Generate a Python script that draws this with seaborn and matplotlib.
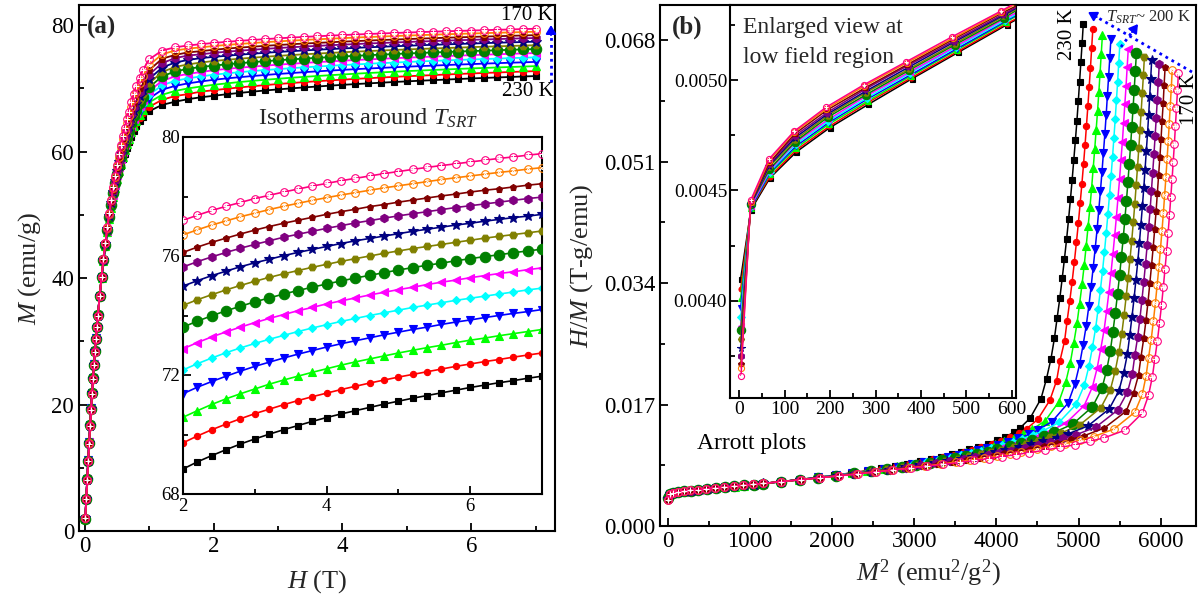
import numpy as np
import matplotlib
matplotlib.use("Agg")
import matplotlib.pyplot as plt
import seaborn as sns
from matplotlib.lines import Line2D
from matplotlib.patches import FancyArrowPatch
from matplotlib.ticker import MultipleLocator, FormatStrFormatter

# ---------------- data ----------------
temperatures_K = [230, 225, 220, 215, 210, 205, 200, 195, 190, 185, 180, 175, 170]

field_T = [0.0075, 0.0225, 0.0375, 0.0525, 0.0675, 0.0825, 0.0975, 0.1125, 0.1275, 0.1425, 0.1575,
           0.1725, 0.1875, 0.2025, 0.23, 0.26, 0.29, 0.32, 0.35, 0.38, 0.41, 0.44, 0.47, 0.50, 0.53,
           0.56, 0.59, 0.62, 0.65, 0.68, 0.72, 0.76, 0.80, 0.85, 0.90, 1.0, 1.2, 1.4, 1.6, 1.8,
           2.0, 2.2, 2.4, 2.6, 2.8, 3.0, 3.2, 3.4, 3.6, 3.8, 4.0, 4.2, 4.4, 4.6, 4.8, 5.0, 5.2, 5.4,
           5.6, 5.8, 6.0, 6.2, 6.4, 6.6, 6.8, 7.0]

m230 = [1.83, 5.10, 8.23, 11.23, 14.11, 16.87, 19.48, 21.95, 24.28, 26.5, 28.5, 30.5, 32.3, 34.1, 37.1, 40.0,
        42.7, 45.0, 47.2, 49.2, 50.9, 52.6, 54.0, 55.4, 56.6, 57.7, 58.8, 59.7, 60.6, 61.5, 62.4, 63.3, 64.1,
        64.9, 65.5, 66.4, 67.4, 67.9, 68.3, 68.6, 68.84, 69.08, 69.29, 69.49, 69.68, 69.85, 70.01, 70.16,
        70.30, 70.44, 70.57, 70.69, 70.80, 70.91, 71.02, 71.12, 71.22, 71.31, 71.40, 71.49, 71.58, 71.66,
        71.74, 71.81, 71.89, 71.96]
m225 = [1.85, 5.09, 8.22, 11.21, 14.09, 16.84, 19.46, 21.93, 24.26, 26.5, 28.5, 30.5, 32.3, 34.1, 37.1, 40.0,
        42.7, 45.1, 47.3, 49.2, 51.0, 52.7, 54.2, 55.5, 56.8, 57.9, 59.0, 60.0, 60.9, 61.7, 62.8, 63.7, 64.5,
        65.4, 66.1, 67.1, 68.2, 68.8, 69.1, 69.5, 69.72, 69.95, 70.16, 70.35, 70.53, 70.70, 70.85, 71.00,
        71.14, 71.27, 71.39, 71.51, 71.62, 71.73, 71.83, 71.93, 72.02, 72.11, 72.20, 72.29, 72.37, 72.45,
        72.52, 72.60, 72.67, 72.74]
m220 = [1.87, 5.09, 8.20, 11.19, 14.06, 16.82, 19.43, 21.90, 24.23, 26.4, 28.5, 30.5, 32.3, 34.1, 37.1, 40.0,
        42.7, 45.1, 47.3, 49.3, 51.1, 52.8, 54.3, 55.7, 57.0, 58.1, 59.2, 60.2, 61.2, 62.0, 63.1, 64.0, 64.9,
        65.8, 66.6, 67.8, 69.0, 69.6, 70.0, 70.3, 70.58, 70.80, 71.01, 71.20, 71.37, 71.53, 71.69, 71.83,
        71.96, 72.09, 72.21, 72.33, 72.44, 72.54, 72.64, 72.74, 72.83, 72.92, 73.00, 73.09, 73.17, 73.24,
        73.32, 73.39, 73.46, 73.53]
m215 = [1.89, 5.09, 8.19, 11.17, 14.04, 16.79, 19.41, 21.88, 24.21, 26.4, 28.5, 30.5, 32.3, 34.1, 37.1, 40.1,
        42.7, 45.2, 47.4, 49.4, 51.3, 52.9, 54.5, 55.9, 57.2, 58.4, 59.5, 60.5, 61.5, 62.3, 63.4, 64.4, 65.3,
        66.3, 67.1, 68.4, 69.8, 70.4, 70.8, 71.1, 71.37, 71.59, 71.78, 71.96, 72.13, 72.29, 72.43, 72.57,
        72.70, 72.82, 72.94, 73.05, 73.15, 73.25, 73.35, 73.44, 73.53, 73.61, 73.70, 73.78, 73.85, 73.93,
        74.00, 74.07, 74.13, 74.20]
m210 = [1.91, 5.08, 8.18, 11.15, 14.02, 16.77, 19.38, 21.85, 24.19, 26.4, 28.5, 30.4, 32.3, 34.1, 37.1, 40.1,
        42.8, 45.2, 47.5, 49.5, 51.4, 53.1, 54.6, 56.1, 57.4, 58.6, 59.7, 60.8, 61.7, 62.7, 63.8, 64.8, 65.7,
        66.7, 67.6, 69.0, 70.5, 71.2, 71.6, 71.9, 72.17, 72.38, 72.57, 72.75, 72.91, 73.06, 73.20, 73.33,
        73.46, 73.58, 73.69, 73.80, 73.90, 74.00, 74.09, 74.18, 74.27, 74.35, 74.43, 74.51, 74.58, 74.65,
        74.72, 74.79, 74.86, 74.92]
m205 = [1.93, 5.08, 8.17, 11.13, 14.00, 16.74, 19.36, 21.83, 24.16, 26.4, 28.4, 30.4, 32.3, 34.1, 37.1, 40.1,
        42.8, 45.3, 47.5, 49.6, 51.5, 53.2, 54.8, 56.3, 57.6, 58.8, 60.0, 61.1, 62.1, 63.0, 64.1, 65.2, 66.1,
        67.2, 68.1, 69.6, 71.2, 71.9, 72.3, 72.6, 72.88, 73.09, 73.28, 73.45, 73.61, 73.76, 73.90, 74.03,
        74.16, 74.27, 74.39, 74.49, 74.59, 74.69, 74.78, 74.87, 74.95, 75.04, 75.12, 75.19, 75.27, 75.34,
        75.41, 75.47, 75.54, 75.60]
m200 = [1.94, 5.07, 8.16, 11.12, 13.97, 16.72, 19.33, 21.80, 24.14, 26.3, 28.4, 30.4, 32.3, 34.1, 37.1, 40.1,
        42.8, 45.3, 47.6, 49.7, 51.6, 53.4, 55.0, 56.5, 57.8, 59.1, 60.3, 61.4, 62.4, 63.3, 64.5, 65.6, 66.6,
        67.7, 68.6, 70.2, 71.9, 72.7, 73.1, 73.4, 73.61, 73.81, 73.99, 74.16, 74.31, 74.46, 74.59, 74.72,
        74.84, 74.95, 75.06, 75.16, 75.26, 75.35, 75.44, 75.53, 75.61, 75.69, 75.76, 75.84, 75.91, 75.98,
        76.04, 76.11, 76.17, 76.23]
m195 = [1.96, 5.07, 8.14, 11.10, 13.95, 16.69, 19.31, 21.78, 24.11, 26.3, 28.4, 30.4, 32.3, 34.0, 37.1, 40.1,
        42.9, 45.4, 47.7, 49.8, 51.7, 53.5, 55.2, 56.7, 58.1, 59.4, 60.6, 61.7, 62.7, 63.7, 64.9, 66.0, 67.1,
        68.2, 69.2, 70.8, 72.6, 73.4, 73.8, 74.1, 74.34, 74.53, 74.70, 74.86, 75.01, 75.15, 75.28, 75.40,
        75.51, 75.62, 75.72, 75.82, 75.91, 76.00, 76.09, 76.17, 76.25, 76.32, 76.39, 76.46, 76.53, 76.60,
        76.66, 76.72, 76.78, 76.84]
m190 = [1.98, 5.07, 8.13, 11.08, 13.93, 16.67, 19.28, 21.75, 24.09, 26.3, 28.4, 30.4, 32.3, 34.0, 37.1, 40.1,
        42.9, 45.4, 47.8, 49.9, 51.9, 53.7, 55.3, 56.9, 58.3, 59.7, 60.9, 62.1, 63.1, 64.1, 65.4, 66.5, 67.6,
        68.8, 69.8, 71.5, 73.3, 74.1, 74.5, 74.8, 74.99, 75.17, 75.34, 75.49, 75.64, 75.77, 75.89, 76.01,
        76.12, 76.22, 76.32, 76.42, 76.51, 76.59, 76.67, 76.75, 76.83, 76.90, 76.97, 77.04, 77.10, 77.17,
        77.23, 77.29, 77.34, 77.40]
m185 = [2.00, 5.06, 8.12, 11.06, 13.91, 16.64, 19.25, 21.73, 24.07, 26.3, 28.4, 30.4, 32.2, 34.0, 37.1, 40.1,
        42.9, 45.5, 47.8, 50.0, 52.0, 53.8, 55.5, 57.1, 58.6, 60.0, 61.2, 62.4, 63.5, 64.6, 65.9, 67.1, 68.2,
        69.4, 70.5, 72.2, 74.0, 74.8, 75.2, 75.4, 75.63, 75.81, 75.97, 76.12, 76.26, 76.39, 76.51, 76.63,
        76.73, 76.83, 76.93, 77.02, 77.11, 77.19, 77.27, 77.35, 77.42, 77.49, 77.56, 77.63, 77.69, 77.75,
        77.81, 77.87, 77.93, 77.98]
m180 = [2.02, 5.06, 8.11, 11.04, 13.88, 16.62, 19.23, 21.70, 24.04, 26.3, 28.4, 30.3, 32.2, 34.0, 37.1, 40.2,
        43.0, 45.5, 47.9, 50.1, 52.1, 54.0, 55.8, 57.4, 58.9, 60.3, 61.6, 62.9, 64.0, 65.1, 66.4, 67.7, 68.8,
        70.1, 71.2, 72.9, 74.7, 75.3, 75.7, 75.9, 76.12, 76.30, 76.46, 76.60, 76.74, 76.87, 76.99, 77.10,
        77.20, 77.30, 77.40, 77.49, 77.57, 77.66, 77.73, 77.81, 77.88, 77.95, 78.02, 78.08, 78.15, 78.21,
        78.26, 78.32, 78.38, 78.43]
m175 = [2.03, 5.06, 8.09, 11.02, 13.86, 16.59, 19.20, 21.68, 24.02, 26.2, 28.3, 30.3, 32.2, 34.0, 37.1, 40.2,
        43.0, 45.6, 48.0, 50.2, 52.3, 54.2, 56.0, 57.7, 59.2, 60.7, 62.0, 63.3, 64.5, 65.6, 67.0, 68.3, 69.5,
        70.8, 72.0, 73.7, 75.4, 76.0, 76.3, 76.5, 76.71, 76.88, 77.04, 77.18, 77.32, 77.44, 77.56, 77.67,
        77.77, 77.87, 77.96, 78.05, 78.13, 78.21, 78.29, 78.36, 78.43, 78.50, 78.57, 78.63, 78.69, 78.75,
        78.81, 78.86, 78.92, 78.97]
m170 = [2.05, 5.05, 8.08, 11.01, 13.84, 16.57, 19.18, 21.65, 24.00, 26.2, 28.3, 30.3, 32.2, 34.0, 37.1, 40.2,
        43.0, 45.6, 48.1, 50.3, 52.4, 54.4, 56.2, 57.9, 59.6, 61.1, 62.5, 63.8, 65.1, 66.3, 67.8, 69.1, 70.4,
        71.7, 72.9, 74.6, 76.0, 76.5, 76.8, 77.0, 77.20, 77.37, 77.53, 77.67, 77.80, 77.93, 78.04, 78.15,
        78.25, 78.35, 78.44, 78.53, 78.61, 78.69, 78.77, 78.84, 78.91, 78.98, 79.04, 79.10, 79.16, 79.22,
        79.28, 79.33, 79.39, 79.44]

magnetization = [m230, m225, m220, m215, m210, m205, m200, m195, m190, m185, m180, m175, m170]
for arr in magnetization:
    assert len(arr) == len(field_T)

# ---------------- styling ----------------
colors = ['#000000', '#ff0000', '#00ff00', '#0000ff', '#00ffff', '#ff00ff', '#008000',
          '#808000', '#000080', '#800080', '#800000', '#ff8000', '#ff0080']
markers = ['s', 'o', '^', 'v', 'D', '<', 'o', 'H', '*', 'h', 'p', 'o', 'o']
msize = [4.5, 4.5, 5.5, 5.5, 4.5, 5.5, 7.5, 5.5, 7, 6, 5, 5.5, 5.5]

sns.set_theme(style="ticks")
plt.rcParams['font.family'] = ['Liberation Serif', 'DejaVu Serif']
plt.rcParams['mathtext.fontset'] = 'custom'
plt.rcParams['mathtext.rm'] = 'Liberation Serif'
plt.rcParams['mathtext.it'] = 'Liberation Serif:italic'
plt.rcParams['mathtext.bf'] = 'Liberation Serif:bold'
plt.rcParams['axes.linewidth'] = 1.5

W, Hpx = 1199, 601
fig = plt.figure(figsize=(W / 100, Hpx / 100), dpi=100)


def rect(l, r, t, b):
    return [l / W, 1 - b / Hpx, (r - l) / W, (b - t) / Hpx]


def fxy(x, y):
    return (x / W, 1 - y / Hpx)


axA = fig.add_axes(rect(79, 555, 5, 531))
axAi = fig.add_axes(rect(183, 542, 137, 494))
axB = fig.add_axes(rect(660, 1196, 5, 526))
axBi = fig.add_axes(rect(730, 1016, 5, 398))


def draw(ax, x, y, i, ms_scale=1.0, lw=1.2):
    c = colors[i]
    hollow = i >= 11
    sns.lineplot(x=x, y=y, ax=ax, color=c, marker=markers[i], markersize=msize[i] * ms_scale,
                 markerfacecolor='none' if hollow else c, markeredgecolor=c,
                 markeredgewidth=0.8, linewidth=lw, estimator=None, sort=False,
                 legend=False, zorder=2 + i * 0.1)
    if hollow:
        sns.lineplot(x=x, y=y, ax=ax, color=c, marker='+' if i == 12 else '.',
                     markersize=msize[i] * ms_scale * (0.8 if i == 12 else 0.5),
                     markeredgewidth=0.7, linestyle='none', estimator=None, sort=False,
                     legend=False, zorder=2 + i * 0.1)


H = np.array(field_T)
for i in range(len(temperatures_K)):
    M = np.array(magnetization[i])
    draw(axA, H, M, i, 1.0, 1.3)
    sel = H >= 2.0
    draw(axAi, H[sel], M[sel], i, 1.0, 1.2)
    selb = H <= 5.0001
    x2 = M[selb] ** 2
    y2 = H[selb] / M[selb]
    draw(axB, x2, y2, i, 1.0, 1.1)
    kk = x2 < 800
    draw(axBi, x2[kk], y2[kk], i, 0.8, 1.1)


def style(ax, size):
    ax.tick_params(direction='in', which='both', top=False, right=False,
                   labelsize=size, width=1.3, colors='black')
    ax.tick_params(which='major', length=6)
    ax.tick_params(which='minor', length=3.5)
    for s in ax.spines.values():
        s.set_linewidth(1.5)
        s.set_color('black')
    ax.set_facecolor('white')


axA.set_xlim(-0.09, 7.3)
axA.set_ylim(0, 83.2)
axA.xaxis.set_major_locator(MultipleLocator(2))
axA.xaxis.set_minor_locator(MultipleLocator(1))
axA.yaxis.set_major_locator(MultipleLocator(20))
axA.yaxis.set_minor_locator(MultipleLocator(10))
style(axA, 16.5)
axA.set_xlabel('$H$ (T)', fontsize=19, labelpad=8)
axA.set_ylabel('$M$ (emu/g)', fontsize=19, labelpad=6)

axAi.set_xlim(2, 7.0)
axAi.set_ylim(68, 80)
axAi.xaxis.set_major_locator(MultipleLocator(2))
axAi.xaxis.set_minor_locator(MultipleLocator(1))
axAi.yaxis.set_major_locator(MultipleLocator(4))
axAi.yaxis.set_minor_locator(MultipleLocator(2))
style(axAi, 13.5)
axAi.set_xlabel('')
axAi.set_ylabel('')
axAi.tick_params(axis='x', pad=3)
axAi.tick_params(axis='y', pad=2)

axB.set_xlim(-95, 6430)
axB.set_ylim(0, 0.0729)
axB.xaxis.set_major_locator(MultipleLocator(1000))
axB.xaxis.set_minor_locator(MultipleLocator(500))
axB.yaxis.set_major_locator(MultipleLocator(0.017))
axB.yaxis.set_minor_locator(MultipleLocator(0.0085))
axB.yaxis.set_major_formatter(FormatStrFormatter('%.3f'))
style(axB, 16.5)
axB.set_xlabel('$M^2$ (emu$^2$/g$^2$)', fontsize=19, labelpad=4)
axB.set_ylabel('$H/M$ (T-g/emu)', fontsize=19, labelpad=6)

axBi.set_xlim(-20, 609)
axBi.set_ylim(0.00356, 0.00534)
axBi.xaxis.set_major_locator(MultipleLocator(100))
axBi.xaxis.set_minor_locator(MultipleLocator(50))
axBi.yaxis.set_major_locator(MultipleLocator(0.0005))
axBi.yaxis.set_minor_locator(MultipleLocator(0.00025))
axBi.yaxis.set_major_formatter(FormatStrFormatter('%.4f'))
style(axBi, 14)
axBi.set_xlabel('')
axBi.set_ylabel('')
axBi.tick_params(pad=2)

for ax in (axAi, axBi):
    ax.set_zorder(5)

tk = dict(color='black', ha='center', va='center')
fig.text(*fxy(87, 27), '(a)', fontsize=18, fontweight='bold', ha='left', va='center')
fig.text(*fxy(527, 15), '170 K', fontsize=15, **tk)
fig.text(*fxy(528, 91), '230 K', fontsize=15, **tk)
fig.text(*fxy(258, 125), 'Isotherms around $T_{SRT}$', fontsize=17.5, ha='left', va='baseline')
fig.text(*fxy(250, 173), '170 K', fontsize=14.5, **tk)
fig.text(*fxy(250, 470), '230 K', fontsize=14.5, **tk)
fig.text(*fxy(361, 440), 'Enlarged view at', fontsize=17, ha='left', va='center')
fig.text(*fxy(361, 469), 'high field region', fontsize=17, ha='left', va='center')

fig.text(*fxy(672, 27), '(b)', fontsize=18, fontweight='bold', ha='left', va='center')
fig.text(*fxy(743, 27), 'Enlarged view at', fontsize=17, ha='left', va='center', zorder=10)
fig.text(*fxy(743, 57), 'low field region', fontsize=17, ha='left', va='center', zorder=10)
fig.text(*fxy(752, 444), 'Arrott plots', fontsize=17, **tk)
fig.text(*fxy(1067, 34), '230 K', fontsize=15, rotation=90, **tk)
fig.text(*fxy(1189, 99), '170 K', fontsize=15, rotation=90, **tk)
fig.text(*fxy(1106, 17), '$T_{SRT}$~ 200 K', fontsize=12, ha='left', va='center')


def darrow(x0, y0, x1, y1):
    p0 = fxy(x0, y0)
    p1 = fxy(x1, y1)
    dx, dy = x1 - x0, y1 - y0
    L = (dx * dx + dy * dy) ** 0.5
    xb, yb = x1 - dx / L * 10, y1 - dy / L * 10
    fig.add_artist(Line2D([p0[0], fxy(xb, yb)[0]], [p0[1], fxy(xb, yb)[1]],
                          transform=fig.transFigure, color='#0000ff', lw=2, ls=(0, (1, 1.5)), zorder=20))
    fig.add_artist(FancyArrowPatch(fxy(xb, yb), p1, transform=fig.transFigure,
                                   arrowstyle='-|>,head_length=5,head_width=3',
                                   color='#0000ff', lw=1.5, zorder=20, shrinkA=0, shrinkB=0))


darrow(551, 82, 551, 25)
darrow(1192, 72, 1088, 12)
darrow(1121, 47, 1138, 24)

fig.savefig('out.png', dpi=100)
